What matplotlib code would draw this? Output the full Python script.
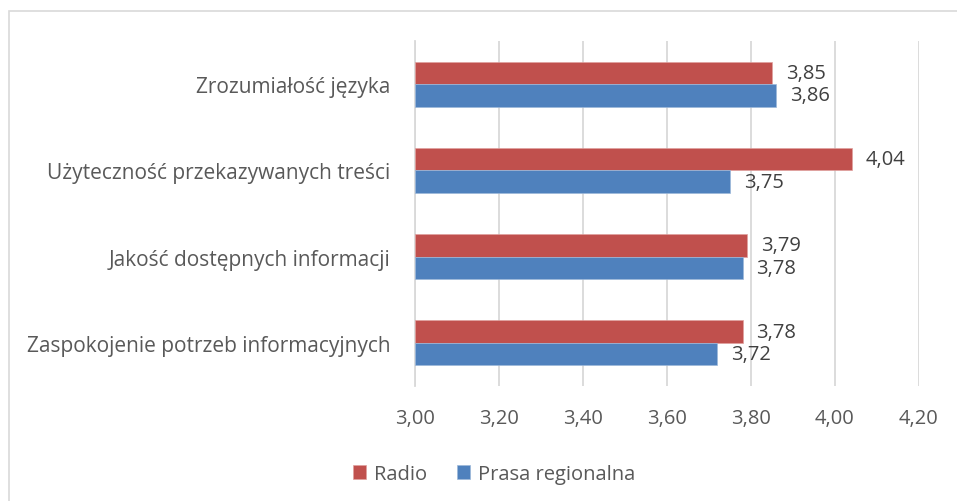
import numpy as np
import matplotlib.pyplot as plt
from matplotlib.patches import Rectangle

plt.rcParams['font.family'] = ['Open Sans', 'DejaVu Sans']

categories = ['Zrozumiałość języka', 'Użyteczność przekazywanych treści',
              'Jakość dostępnych informacji', 'Zaspokojenie potrzeb informacyjnych']
radio = [3.85, 4.04, 3.79, 3.78]
prasa = [3.86, 3.75, 3.78, 3.72]
xticks = [3.0, 3.2, 3.4, 3.6, 3.8, 4.0, 4.2]

red = '#C0504D'
blue = '#4F81BD'
grid_c = '#D9D9D9'
fs = 14.5

fig = plt.figure(figsize=(9.57, 5.02), dpi=100)
ax = fig.add_axes([415 / 957, 1 - 387 / 502, (919 - 415) / 957, (387 - 42) / 502])

# chart border (runs off right/bottom like the screenshot)
fig.patches.append(Rectangle((9 / 957, -0.1), 1.2, (502 - 12) / 502 + 0.1,
                             transform=fig.transFigure, fill=False,
                             edgecolor=grid_c, linewidth=1.2))

y = np.arange(len(categories))[::-1].astype(float)
h = 0.262
ax.barh(y + h / 2, [v - 3 for v in radio], left=3, height=h, color=red,
        edgecolor='#E0A09E', linewidth=0.5, label='Radio', zorder=3)
ax.barh(y - h / 2, [v - 3 for v in prasa], left=3, height=h, color=blue,
        edgecolor='#9DB8DA', linewidth=0.5, label='Prasa regionalna', zorder=3)

fmt = lambda v: f'{v:.2f}'.replace('.', ',')
for yi, r, p in zip(y, radio, prasa):
    ax.annotate(fmt(r), (r, yi + h / 2), xytext=(10, 0), textcoords='offset points',
                va='center', ha='left', fontsize=fs, color='#404040')
    ax.annotate(fmt(p), (p, yi - h / 2), xytext=(10, 0), textcoords='offset points',
                va='center', ha='left', fontsize=fs, color='#404040')

ax.set_xlim(3.0, 4.2)
ax.set_ylim(-0.5, len(categories) - 0.5)
ax.set_xticks(xticks)
ax.set_xticklabels([fmt(t) for t in xticks], fontsize=fs, color='#595959')
ax.set_yticks(y)
ax.set_yticklabels(categories, fontsize=15, color='#595959')
ax.tick_params(axis='both', length=0)
ax.tick_params(axis='x', pad=16)
ax.tick_params(axis='y', pad=17.5)
ax.xaxis.grid(True, color=grid_c, linewidth=1.3, zorder=0)
for s in ['top', 'right', 'bottom']:
    ax.spines[s].set_visible(False)
ax.spines['left'].set_color(grid_c)
ax.spines['left'].set_linewidth(1.3)

leg = fig.legend(loc='center', bbox_to_anchor=(494 / 957, 1 - 475 / 502), ncol=2,
                 frameon=False, fontsize=fs, handlelength=0.65, handleheight=0.65,
                 handletextpad=0.4, columnspacing=1.5)
for t in leg.get_texts():
    t.set_color('#595959')

fig.savefig('out.png', dpi=100, facecolor='white')
